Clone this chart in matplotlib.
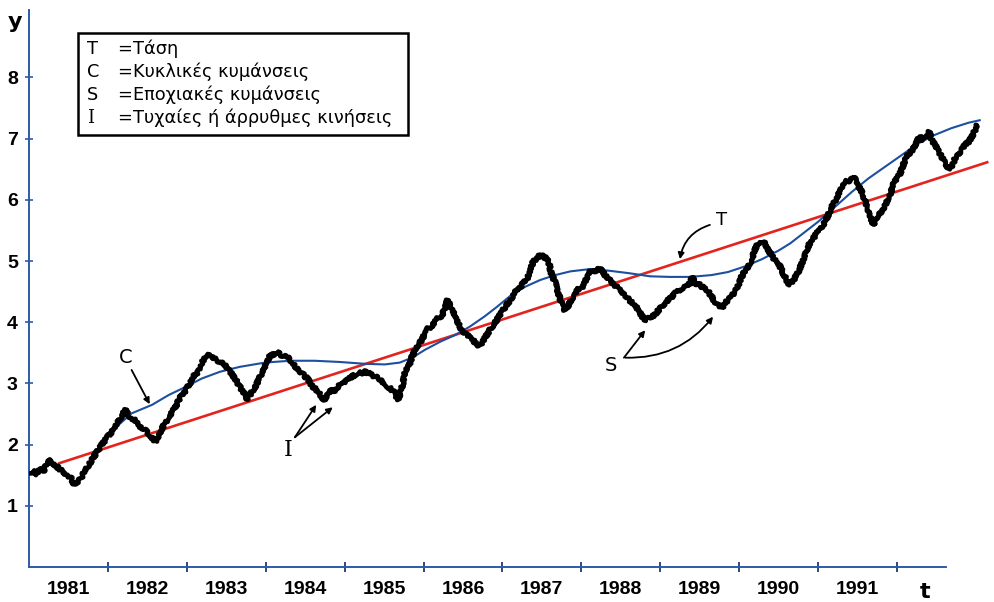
import matplotlib
matplotlib.use("Agg")
import matplotlib.pyplot as plt
from matplotlib.patches import Rectangle

# ---- data -------------------------------------------------------------
years = list(range(1981, 1992))
year_bounds = list(range(1982, 1993))
y_ticks = [1, 2, 3, 4, 5, 6, 7, 8]

# trend T (straight line, start and end)
trend_t = [1981.37, 1993.16]
trend_v = [1.69, 6.62]

# cyclical movement C
cycle_t = [1981.90, 1982.09, 1982.30, 1982.56, 1982.77, 1982.98, 1983.19, 1983.42,
           1983.67, 1983.99, 1984.31, 1984.62, 1984.94, 1985.26, 1985.51, 1985.70,
           1985.87, 1986.02, 1986.21, 1986.40, 1986.59, 1986.78, 1986.93, 1987.10,
           1987.29, 1987.48, 1987.67, 1987.86, 1988.12, 1988.36, 1988.61, 1988.87,
           1989.12, 1989.38, 1989.65, 1989.86, 1990.07, 1990.29, 1990.50, 1990.65,
           1990.75, 1991.00, 1991.22, 1991.43, 1991.64, 1991.85, 1992.06, 1992.27,
           1992.48, 1992.69, 1992.91, 1993.05]
cycle_v = [2.03, 2.27, 2.51, 2.65, 2.81, 2.94, 3.08, 3.19,
           3.27, 3.34, 3.37, 3.37, 3.35, 3.32, 3.31, 3.34,
           3.43, 3.55, 3.68, 3.79, 3.93, 4.10, 4.25, 4.43,
           4.58, 4.69, 4.77, 4.83, 4.87, 4.84, 4.80, 4.75,
           4.74, 4.74, 4.77, 4.82, 4.91, 5.03, 5.17, 5.29,
           5.39, 5.64, 5.89, 6.13, 6.35, 6.54, 6.73, 6.92,
           7.06, 7.17, 7.26, 7.30]

# observed series (T + C + S + I)
series_t = [1981.01, 1981.05, 1981.10, 1981.14, 1981.18, 1981.22, 1981.27, 1981.31,
            1981.35, 1981.41, 1981.46, 1981.52, 1981.58, 1981.62, 1981.67, 1981.71,
            1981.77, 1981.81, 1981.86, 1981.92, 1981.98, 1982.03, 1982.07, 1982.11,
            1982.17, 1982.22, 1982.26, 1982.30, 1982.34, 1982.41, 1982.47, 1982.53,
            1982.60, 1982.64, 1982.68, 1982.72, 1982.77, 1982.81, 1982.87, 1982.91,
            1982.96, 1983.00, 1983.04, 1983.08, 1983.13, 1983.17, 1983.21, 1983.25,
            1983.32, 1983.38, 1983.42, 1983.48, 1983.55, 1983.61, 1983.67, 1983.74,
            1983.77, 1983.80, 1983.84, 1983.89, 1983.95, 1984.01, 1984.05, 1984.12,
            1984.16, 1984.20, 1984.24, 1984.29, 1984.35, 1984.39, 1984.43, 1984.48,
            1984.54, 1984.58, 1984.62, 1984.67, 1984.71, 1984.74, 1984.79, 1984.84,
            1984.88, 1984.92, 1984.96, 1985.00, 1985.05, 1985.09, 1985.13, 1985.17,
            1985.22, 1985.26, 1985.30, 1985.34, 1985.39, 1985.43, 1985.47, 1985.51,
            1985.55, 1985.60, 1985.64, 1985.67, 1985.70, 1985.74, 1985.77, 1985.81,
            1985.85, 1985.89, 1985.93, 1985.98, 1986.02, 1986.06, 1986.10, 1986.15,
            1986.19, 1986.23, 1986.27, 1986.30, 1986.34, 1986.38, 1986.42, 1986.46,
            1986.50, 1986.55, 1986.59, 1986.63, 1986.67, 1986.72, 1986.76, 1986.80,
            1986.84, 1986.88, 1986.93, 1986.97, 1987.01, 1987.05, 1987.10, 1987.14,
            1987.18, 1987.22, 1987.26, 1987.31, 1987.35, 1987.39, 1987.43, 1987.48,
            1987.52, 1987.56, 1987.59, 1987.62, 1987.67, 1987.71, 1987.75, 1987.79,
            1987.84, 1987.88, 1987.92, 1987.96, 1988.00, 1988.05, 1988.09, 1988.13,
            1988.17, 1988.24, 1988.30, 1988.36, 1988.42, 1988.49, 1988.55, 1988.61,
            1988.68, 1988.72, 1988.76, 1988.80, 1988.85, 1988.89, 1988.93, 1988.98,
            1989.02, 1989.08, 1989.15, 1989.21, 1989.27, 1989.34, 1989.38, 1989.41,
            1989.44, 1989.48, 1989.53, 1989.57, 1989.61, 1989.65, 1989.69, 1989.74,
            1989.78, 1989.82, 1989.86, 1989.91, 1989.95, 1989.99, 1990.03, 1990.07,
            1990.12, 1990.16, 1990.20, 1990.24, 1990.29, 1990.33, 1990.37, 1990.41,
            1990.45, 1990.50, 1990.54, 1990.60, 1990.64, 1990.70, 1990.75, 1990.80,
            1990.85, 1990.90, 1990.94, 1990.98, 1991.03, 1991.07, 1991.11, 1991.15,
            1991.19, 1991.24, 1991.28, 1991.32, 1991.36, 1991.41, 1991.45, 1991.49,
            1991.53, 1991.57, 1991.62, 1991.66, 1991.70, 1991.74, 1991.79, 1991.83,
            1991.87, 1991.91, 1991.95, 1992.00, 1992.04, 1992.08, 1992.12, 1992.16,
            1992.21, 1992.25, 1992.29, 1992.33, 1992.38, 1992.41, 1992.44, 1992.48,
            1992.52, 1992.57, 1992.61, 1992.65, 1992.69, 1992.74, 1992.78, 1992.82,
            1992.86, 1992.91, 1992.95, 1992.99, 1993.01]
series_v = [1.53, 1.58, 1.52, 1.61, 1.56, 1.67, 1.75, 1.69,
            1.64, 1.58, 1.50, 1.48, 1.34, 1.39, 1.48, 1.58,
            1.69, 1.78, 1.88, 1.99, 2.10, 2.18, 2.24, 2.35,
            2.45, 2.57, 2.48, 2.43, 2.40, 2.29, 2.24, 2.16,
            2.05, 2.13, 2.24, 2.35, 2.43, 2.54, 2.65, 2.76,
            2.84, 2.92, 3.00, 3.11, 3.17, 3.27, 3.38, 3.46,
            3.44, 3.38, 3.35, 3.30, 3.19, 3.08, 2.95, 2.81,
            2.73, 2.81, 2.89, 3.00, 3.17, 3.33, 3.44, 3.49,
            3.52, 3.46, 3.44, 3.41, 3.33, 3.25, 3.19, 3.14,
            3.06, 2.97, 2.92, 2.86, 2.78, 2.73, 2.84, 2.89,
            2.86, 2.95, 3.00, 3.03, 3.08, 3.11, 3.14, 3.17,
            3.17, 3.19, 3.17, 3.14, 3.11, 3.08, 3.06, 2.97,
            2.95, 2.89, 2.84, 2.73, 2.81, 3.00, 3.22, 3.27,
            3.42, 3.55, 3.63, 3.71, 3.82, 3.90, 3.93, 4.01,
            4.08, 4.10, 4.23, 4.36, 4.28, 4.15, 4.04, 3.93,
            3.84, 3.79, 3.76, 3.71, 3.63, 3.63, 3.71, 3.79,
            3.87, 3.95, 4.04, 4.12, 4.20, 4.28, 4.36, 4.44,
            4.53, 4.55, 4.64, 4.69, 4.85, 4.99, 5.04, 5.10,
            5.07, 5.04, 4.96, 4.80, 4.64, 4.47, 4.31, 4.20,
            4.28, 4.39, 4.44, 4.55, 4.55, 4.66, 4.80, 4.85,
            4.83, 4.88, 4.77, 4.69, 4.61, 4.53, 4.44, 4.36,
            4.28, 4.20, 4.12, 4.04, 4.06, 4.09, 4.12, 4.20,
            4.25, 4.34, 4.42, 4.50, 4.55, 4.61, 4.64, 4.74,
            4.61, 4.64, 4.58, 4.55, 4.50, 4.42, 4.34, 4.28,
            4.23, 4.31, 4.36, 4.44, 4.50, 4.61, 4.74, 4.83,
            4.91, 5.04, 5.18, 5.29, 5.32, 5.29, 5.18, 5.10,
            5.02, 4.96, 4.85, 4.69, 4.61, 4.71, 4.82, 4.98,
            5.15, 5.31, 5.37, 5.45, 5.51, 5.59, 5.70, 5.81,
            5.94, 6.02, 6.16, 6.27, 6.30, 6.32, 6.38, 6.30,
            6.19, 6.08, 5.89, 5.75, 5.59, 5.70, 5.78, 5.83,
            5.97, 6.05, 6.24, 6.35, 6.43, 6.57, 6.70, 6.76,
            6.84, 6.95, 7.03, 6.98, 7.03, 7.11, 6.98, 6.90,
            6.81, 6.70, 6.60, 6.51, 6.54, 6.68, 6.73, 6.81,
            6.90, 6.95, 7.03, 7.14, 7.22]

legend_keys = ["T", "C", "S", "I"]
legend_texts = ["Τάση", "Κυκλικές κυμάνσεις", "Εποχιακές κυμάνσεις",
                "Τυχαίες ή άρρυθμες κινήσεις"]

# ---- styling ----------------------------------------------------------
AXIS_BLUE = "#2c5ca6"
RED = "#e3241e"
BLUE = "#1d4f9e"
TEXT_FONT = ["DejaVu Sans"]
DIGIT_FONT = ["Liberation Sans", "DejaVu Sans"]
SERIF_FONT = ["DejaVu Serif"]

W, H = 994, 602
fig = plt.figure(figsize=(W / 100, H / 100), dpi=100)
px_year, px_unit = 78.9, 61.2
ax = fig.add_axes([29 / W, 35 / H, 965 / W, 557 / H])
ax.set_xlim(1981, 1981 + 965 / px_year)
ax.set_ylim(0, 557 / px_unit)

for side in ("top", "right"):
    ax.spines[side].set_visible(False)
for side in ("left", "bottom"):
    ax.spines[side].set_color(AXIS_BLUE)
    ax.spines[side].set_linewidth(1.4)
ax.spines["bottom"].set_bounds(1981, 1992.62)

# year boundaries as ticks, year names centred in each year
ax.set_xticks(year_bounds)
ax.set_xticklabels([])
ax.set_xticks([y + 0.5 for y in years], minor=True)
ax.set_xticklabels([str(y) for y in years], minor=True,
                   fontfamily=DIGIT_FONT, fontsize=14, fontweight="bold")
ax.tick_params(axis="x", which="major", direction="inout", length=7,
               width=1.3, color="#1a3a78")
ax.tick_params(axis="x", which="minor", length=0, pad=10)

ax.set_yticks(y_ticks)
ax.set_yticklabels([str(v) for v in y_ticks], fontfamily=DIGIT_FONT,
                   fontsize=14, fontweight="bold")
ax.tick_params(axis="y", direction="inout", length=6, width=1.2,
               color=AXIS_BLUE, pad=5)

# ---- the three curves -------------------------------------------------
ax.plot(trend_t, trend_v, color=RED, lw=1.9, zorder=2,
        solid_capstyle="butt")
ax.plot(cycle_t, cycle_v, color=BLUE, lw=1.5, zorder=3)
series_line, = ax.plot(series_t, series_v, color="black", lw=3.4, zorder=4,
                       solid_joinstyle="round", solid_capstyle="round")
series_line.set_sketch_params(scale=1.5, length=2.5, randomness=4)

# ---- annotations ------------------------------------------------------
arrow_kw = dict(arrowstyle="-|>", color="black", lw=1.3, mutation_scale=9,
                shrinkA=0, shrinkB=0)

ax.text(1982.22, 3.43, "C", fontfamily=TEXT_FONT, fontsize=14,
        ha="center", va="center")
ax.annotate("", xy=(1982.53, 2.66), xytext=(1982.30, 3.22),
            arrowprops=arrow_kw)

ax.text(1984.28, 1.91, "I", fontfamily=SERIF_FONT, fontsize=16,
        ha="center", va="center")
ax.annotate("", xy=(1984.64, 2.65), xytext=(1984.37, 2.12),
            arrowprops=arrow_kw)
ax.annotate("", xy=(1984.85, 2.61), xytext=(1984.37, 2.12),
            arrowprops=arrow_kw)

ax.text(1988.38, 3.30, "S", fontfamily=TEXT_FONT, fontsize=14,
        ha="center", va="center")
ax.annotate("", xy=(1988.81, 3.87), xytext=(1988.54, 3.42),
            arrowprops=arrow_kw)
ax.annotate("", xy=(1989.67, 4.09), xytext=(1988.56, 3.42),
            arrowprops=dict(arrow_kw, connectionstyle="arc3,rad=0.25"))

ax.text(1989.78, 5.67, "T", fontfamily=TEXT_FONT, fontsize=13,
        ha="center", va="center")
ax.annotate("", xy=(1989.25, 5.03), xytext=(1989.63, 5.59),
            arrowprops=dict(arrow_kw, connectionstyle="arc3,rad=0.3"))

# axis names
fig.text(15 / W, 1 - 22 / H, "y", fontfamily=TEXT_FONT, fontsize=16,
         fontweight="bold", ha="center", va="center")
fig.text(925 / W, 1 - 592 / H, "t", fontfamily=TEXT_FONT, fontsize=16,
         fontweight="bold", ha="center", va="center")

# ---- key box ----------------------------------------------------------
fig.patches.append(Rectangle((78 / W, 1 - 135 / H), 330 / W, 102 / H,
                             transform=fig.transFigure, fill=False,
                             edgecolor="black", lw=1.8))
rows_y = [49, 72, 95, 118]
for key, txt, ry in zip(legend_keys, legend_texts, rows_y):
    fam = SERIF_FONT if key == "I" else TEXT_FONT
    fig.text(87 / W, 1 - ry / H, key, fontfamily=fam, fontsize=12.8,
             ha="left", va="center")
    fig.text(117 / W, 1 - ry / H, "=", fontfamily=TEXT_FONT, fontsize=12.8,
             ha="left", va="center")
    fig.text(133 / W, 1 - ry / H, txt, fontfamily=TEXT_FONT, fontsize=12.8,
             ha="left", va="center")

fig.savefig("out.png", dpi=100)
